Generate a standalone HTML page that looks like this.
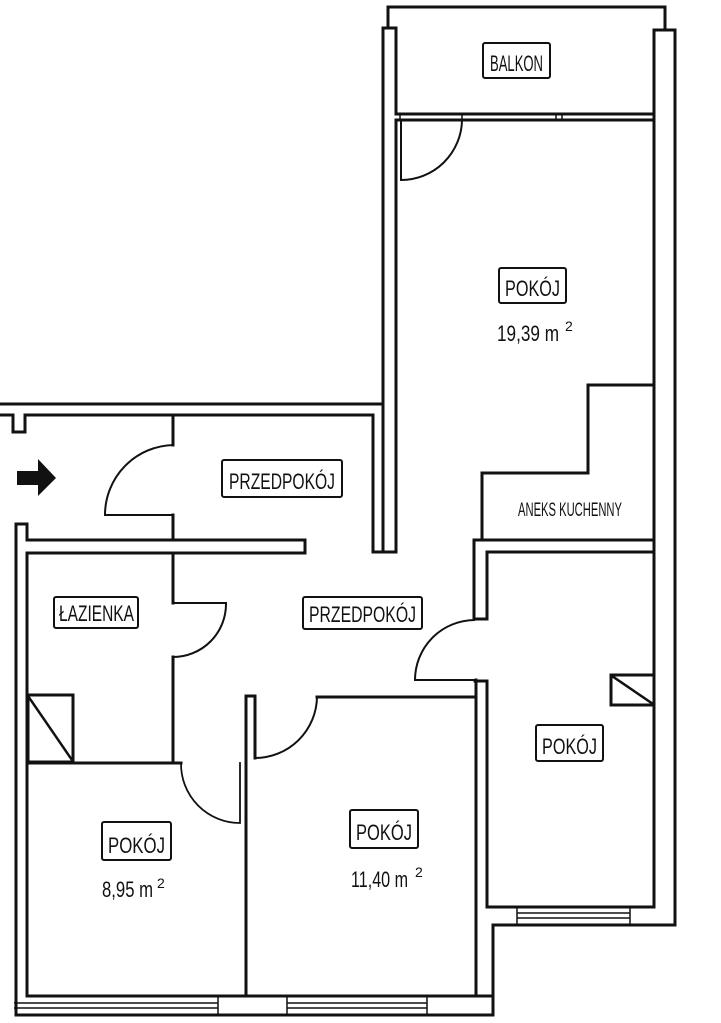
<!DOCTYPE html>
<html><head><meta charset="utf-8"><style>
html,body{margin:0;padding:0;background:#fff;}
svg{display:block}
text{font-family:"Liberation Sans",sans-serif;fill:#111;}
</style></head><body>
<svg width="721" height="1023" viewBox="0 0 721 1023" xmlns="http://www.w3.org/2000/svg">
<g fill="none" stroke="#111" stroke-width="3" stroke-linecap="square">
<polyline points="388,28 388,7 665,7 665,30"/>
<polyline points="383,404 383,28 396,28 396,114"/>
<line x1="396" y1="120" x2="396" y2="552"/>
<polyline points="654,120 654,30 675,30 675,925 493,925 493,1015 16,1015 16,524 27,524 27,540"/>
<line x1="654" y1="114" x2="654" y2="120"/>
<line x1="654" y1="120" x2="654" y2="907"/>
<line x1="396" y1="114" x2="654" y2="114"/>
<line x1="396" y1="120" x2="654" y2="120"/>
<line x1="400" y1="114" x2="400" y2="120" stroke-width="1.5"/>
<line x1="462" y1="114" x2="462" y2="120" stroke-width="1.5"/>
<line x1="556" y1="114" x2="556" y2="120" stroke-width="1.5"/>
<line x1="562" y1="114" x2="562" y2="120" stroke-width="1.5"/>
<line x1="401" y1="120" x2="401" y2="180" stroke-width="2"/>
<path d="M401,180 A61,61 0 0 0 462,120" stroke-width="2"/>
<line x1="0" y1="404" x2="383" y2="404"/>
<polyline points="0,415 13,415 13,432 25,432 25,415 373,415 373,552 396,552"/>
<polyline points="383,404 383,552"/>
<line x1="173" y1="415" x2="173" y2="445"/>
<path d="M173,445 A70,70 0 0 0 105,515 L173,515" stroke-width="2"/>
<line x1="173" y1="515" x2="173" y2="540"/>
<polyline points="27,540 305,540 305,553 27,553 27,996"/>
<line x1="173" y1="553" x2="173" y2="603"/>
<path d="M173,603 L226,603 A53,53 0 0 1 173,657" stroke-width="2"/>
<line x1="173" y1="657" x2="173" y2="763"/>
<line x1="27" y1="763" x2="181" y2="763"/>
<path d="M181,763 A59,59 0 0 0 240,823 L240,763" stroke-width="1.8"/>
<rect x="28" y="695" width="45" height="67"/>
<line x1="28" y1="696" x2="72" y2="760" stroke-width="2.5"/>
<polyline points="246,996 246,696 255,696 255,758"/>
<path d="M255,758 A62,62 0 0 0 317,697" stroke-width="2"/>
<polyline points="317,697 475,697"/>
<line x1="476" y1="680" x2="476" y2="996"/>
<polyline points="654,385 588,385 588,473 482,473 482,540"/>
<line x1="474" y1="540" x2="654" y2="540"/>
<polyline points="474,619 474,540"/>
<polyline points="487,619 487,552 654,552"/>
<line x1="474" y1="619" x2="487" y2="619"/>
<path d="M474,620 A60,60 0 0 0 415,680 L475,680" stroke-width="2"/>
<polyline points="487,681 487,907 654,907"/>
<line x1="475" y1="681" x2="487" y2="681"/>
<rect x="611" y="675" width="43" height="30"/>
<line x1="612" y1="676" x2="653" y2="704" stroke-width="2.5"/>
<line x1="27" y1="996" x2="476" y2="996"/>
<line x1="476" y1="996" x2="493" y2="996"/>
</g>
<g stroke="#111" stroke-width="1.5" fill="none">
<line x1="14" y1="1003" x2="218" y2="1003"/><line x1="14" y1="1008" x2="218" y2="1008"/>
<line x1="218" y1="996" x2="218" y2="1015"/><line x1="287" y1="996" x2="287" y2="1015"/>
<line x1="287" y1="1003" x2="427" y2="1003"/><line x1="287" y1="1008" x2="427" y2="1008"/>
<line x1="427" y1="996" x2="427" y2="1015"/>
<line x1="517" y1="913" x2="630" y2="913"/><line x1="517" y1="918" x2="630" y2="918"/>
<line x1="517" y1="907" x2="517" y2="925"/><line x1="630" y1="907" x2="630" y2="925"/>
</g>
<polygon points="17,471 38,471 38,459 56,478 38,496 38,485 17,485" fill="#111"/>
<g fill="none" stroke="#111" stroke-width="2">
<rect x="483" y="43" width="67" height="35" rx="2"/>
<rect x="499" y="268" width="67" height="35" rx="2"/>
<rect x="222" y="460" width="120" height="37" rx="2"/>
<rect x="54" y="597" width="84" height="31" rx="2"/>
<rect x="303" y="597" width="119" height="32" rx="2"/>
<rect x="536" y="725" width="67" height="36" rx="2"/>
<rect x="350" y="810" width="68" height="38" rx="2"/>
<rect x="102" y="822" width="69" height="38" rx="2"/>
</g>
<g font-size="22">
<text x="490" y="71" textLength="53" lengthAdjust="spacingAndGlyphs">BALKON</text>
<text x="505" y="296" textLength="55" lengthAdjust="spacingAndGlyphs">POKÓJ</text>
<text x="497" y="341" textLength="62" lengthAdjust="spacingAndGlyphs">19,39 m</text>
<text x="565" y="331" font-size="14">2</text>
<text x="229" y="489" textLength="106" lengthAdjust="spacingAndGlyphs">PRZEDPOKÓJ</text>
<text x="59" y="621" textLength="75" lengthAdjust="spacingAndGlyphs">ŁAZIENKA</text>
<text x="309" y="622" textLength="107" lengthAdjust="spacingAndGlyphs">PRZEDPOKÓJ</text>
<text x="542" y="754" textLength="55" lengthAdjust="spacingAndGlyphs">POKÓJ</text>
<text x="356" y="840" textLength="56" lengthAdjust="spacingAndGlyphs">POKÓJ</text>
<text x="351" y="887" textLength="57" lengthAdjust="spacingAndGlyphs">11,40 m</text>
<text x="415" y="877" font-size="14">2</text>
<text x="108" y="853" textLength="57" lengthAdjust="spacingAndGlyphs">POKÓJ</text>
<text x="102" y="897" textLength="51" lengthAdjust="spacingAndGlyphs">8,95 m</text>
<text x="157" y="888" font-size="14">2</text>
<text x="518" y="516" font-size="19" textLength="104" lengthAdjust="spacingAndGlyphs">ANEKS KUCHENNY</text>
</g>
</svg>
</body></html>
